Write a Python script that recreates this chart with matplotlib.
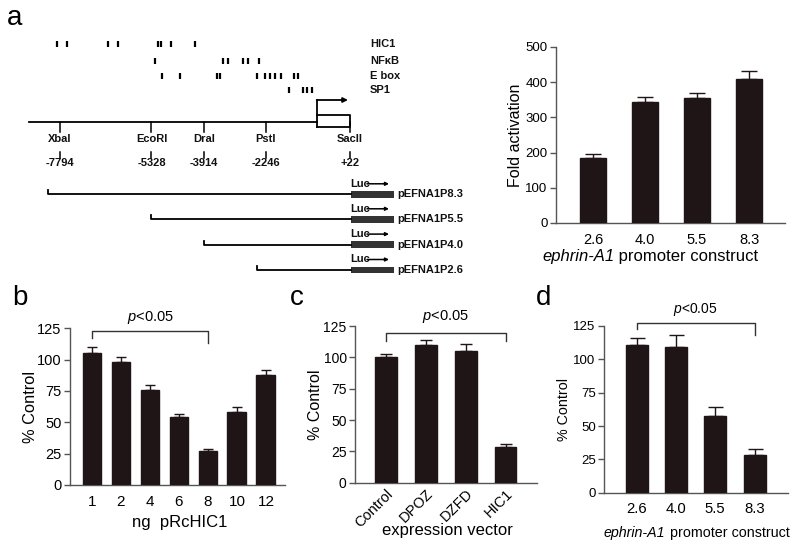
import numpy as np
import matplotlib
matplotlib.use("Agg")
import matplotlib.pyplot as plt
from matplotlib.patches import Rectangle

plt.rcParams['font.family'] = ['Liberation Sans', 'DejaVu Sans']
plt.rcParams['mathtext.fontset'] = 'custom'
plt.rcParams['mathtext.rm'] = 'Liberation Sans'
plt.rcParams['mathtext.it'] = 'Liberation Sans:italic'

# ---- data ----
# promoter map (bp relative to TSS)
site_names = ['HIC1', 'NF\u03baB', 'E box', 'SP1']
hic1_sites = [-7883, -7613, -6508, -6239, -5153, -5072, -4803, -4156]
nfkb_sites = [-5234, -3393, -3274, -2854, -2719, -2423]
ebox_sites = [-5037, -4560, -3571, -3482, -2493, -2269, -2135, -2000, -1838, -1480, -1372]
sp1_sites = [-1614, -1237, -1129, -1011]
enzymes = ['XbaI', 'EcoRI', 'DraI', 'PstI', 'SacII']
enzyme_pos = [-7794, -5328, -3914, -2246, 22]
enzyme_text = ['-7794', '-5328', '-3914', '-2246', '+22']
constructs = ['pEFNA1P8.3', 'pEFNA1P5.5', 'pEFNA1P4.0', 'pEFNA1P2.6']
construct_start = [-8125, -5328, -3914, -2477]

# panel a bars
a_labels = ['2.6', '4.0', '5.5', '8.3']
a_vals = [185, 345, 355, 409]
a_err = [10, 13, 14, 22]
# panel b
b_labels = ['1', '2', '4', '6', '8', '10', '12']
b_vals = [105, 98, 76, 54, 27, 58.5, 88]
b_err = [5, 4, 4, 2.5, 2, 3.5, 4]
# panel c
c_labels = ['Control', 'DPOZ', 'DZFD', 'HIC1']
c_vals = [100, 109.6, 105.3, 28.7]
c_err = [3, 4.5, 5, 2.2]
# panel d
d_labels = ['2.6', '4.0', '5.5', '8.3']
d_vals = [110.5, 109, 57.8, 28.3]
d_err = [5.8, 9, 6.2, 4.5]

W, H = 800, 549
BAR = '#1f1416'
SPINE = '#555555'

fig = plt.figure(figsize=(8, 5.49), dpi=100)


def px_axes(left, right, top, bottom):
    return fig.add_axes([left / W, 1 - bottom / H, (right - left) / W, (bottom - top) / H])


# ---- schematic (pixel space) ----
sx = fig.add_axes([0, 0, 1, 1])
sx.set_xlim(0, W)
sx.set_ylim(H, 0)
sx.axis('off')


def bp2px(bp):
    return 60 + (bp + 7794) * 290 / 7816


row_y = [44, 61, 76, 90]
for name, sites, y in zip(site_names, [hic1_sites, nfkb_sites, ebox_sites, sp1_sites], row_y):
    for s in sites:
        sx.plot([bp2px(s)] * 2, [y - 2.8, y + 2.8], color='k', lw=1.6, solid_capstyle='butt')
    sx.text(370, y, name, fontsize=8, fontweight='bold', va='center', ha='left', color='#111')

main_y = 122.3
tss_x = bp2px(-876)
sx.plot([bp2px(-8629), tss_x], [main_y, main_y], color='k', lw=1.3)
sx.plot([tss_x, tss_x], [100, 126.7], color='k', lw=1.3)
sx.annotate('', xy=(348, 100), xytext=(tss_x, 100),
            arrowprops=dict(arrowstyle='-|>', lw=1.3, color='k', mutation_scale=7, shrinkA=0, shrinkB=0))
sx.plot([tss_x, 350, 350, tss_x], [115, 115, 126.7, 126.7], color='k', lw=1.3)

for name, pos, txt in zip(enzymes, enzyme_pos, enzyme_text):
    x = bp2px(pos)
    sx.plot([x, x], [main_y, 131.5], color='k', lw=1.1)
    sx.text(x, 138.5, name, fontsize=8, fontweight='bold', ha='center', va='center', color='#111')
    sx.plot([x, x], [151.5, 157.5], color='k', lw=1.1)
    sx.text(x, 163.5, txt, fontsize=8, fontweight='bold', ha='center', va='center', color='#111')

con_y = [194.3, 219.3, 244.6, 270]
for name, start, y in zip(constructs, construct_start, con_y):
    x0 = bp2px(start)
    sx.plot([x0, x0, 351], [y - 4, y, y], color='k', lw=1.3)
    sx.add_patch(Rectangle((351, y - 3.2), 42.5, 6.4, color='#333333', lw=0))
    sx.text(350, y - 10.5, 'Luc', fontsize=8, fontweight='bold', ha='left', va='center', color='#111')
    sx.annotate('', xy=(389, y - 10.5), xytext=(367, y - 10.5),
                arrowprops=dict(arrowstyle='-|>', lw=1.1, color='k', mutation_scale=5, shrinkA=0, shrinkB=0))
    sx.text(397, y, name, fontsize=8, fontweight='bold', ha='left', va='center', color='#111')


# ---- bar panels ----
def bar_panel(rect, xlim, ylim, yticks, labels, vals, err, width, capsize,
              ytick_fs, xtick_fs, ylabel_fs):
    left, right, top, bottom = rect
    ax = px_axes(left, right, top, bottom)
    x = np.arange(len(vals))
    ax.bar(x, vals, width=width, color=BAR, edgecolor=BAR, zorder=3)
    ax.errorbar(x, vals, yerr=[np.zeros(len(err)), err], fmt='none', ecolor=BAR,
                elinewidth=1.0, capsize=capsize, capthick=1.0, zorder=2)
    ax.set_xlim(*xlim)
    ax.set_ylim(*ylim)
    ax.set_yticks(yticks)
    ax.set_xticks(x)
    ax.set_xticklabels(labels)
    for s in ['top', 'right']:
        ax.spines[s].set_visible(False)
    for s in ['left', 'bottom']:
        ax.spines[s].set_color(SPINE)
        ax.spines[s].set_linewidth(1.0)
    ax.tick_params(axis='y', length=4, width=1, color=SPINE, labelsize=ytick_fs, pad=2)
    ax.tick_params(axis='x', length=0, labelsize=xtick_fs)
    ax.set_ylabel('Fold activation' if ylim[1] > 200 else '% Control', fontsize=ylabel_fs)
    ax.yaxis.set_label_coords(-40 / (right - left), 0.5)
    ax.yaxis.label.set_va('center')
    return ax


def set_xlabel_px(ax, rect, text, xc, yc, fs):
    left, right, top, bottom = rect
    ax.set_xlabel(text, fontsize=fs)
    ax.xaxis.label.set_va('center')
    ax.xaxis.set_label_coords((xc - left) / (right - left), -(yc - bottom) / (bottom - top))


def promo_label(x_left, yc, fs):
    t1 = fig.text(x_left / W, 1 - yc / H, 'ephrin-A1', fontstyle='italic',
                  fontsize=fs, ha='left', va='center')
    fig.text(0, 0, '', fontsize=1)
    sx.annotate(' promoter construct', xy=(1, 0), xycoords=t1, ha='left', va='bottom', fontsize=fs)


def bracket(ax, x0, x1, ytop, yl, yr, ytext, fs):
    ax.plot([x0, x0, x1, x1], [yl, ytop, ytop, yr], color='#333333', lw=1.0, clip_on=False)
    ax.text((x0 + x1) / 2, ytext, r'$\it{p}$<0.05', ha='center', va='center', fontsize=fs)


ra = (556, 785, 47, 223)
axa = bar_panel(ra, (-0.71, 3.69), (0, 500), [0, 100, 200, 300, 400, 500],
                a_labels, a_vals, a_err, 0.5, 5.5, 9.5, 10.5, 11.5)
axa.tick_params(axis='x', pad=7)
promo_label(542, 257, 12)

rb = (70, 285, 328.3, 485)
axb = bar_panel(rb, (-0.76, 6.66), (0, 125), [0, 25, 50, 75, 100, 125],
                b_labels, b_vals, b_err, 0.65, 3.5, 10.5, 11, 11.8)
axb.tick_params(axis='x', pad=7)
set_xlabel_px(axb, rb, 'ng  pRcHIC1', 180, 522, 12)
bracket(axb, 0, 4, 122.6, 117.3, 113, 134, 10.5)

rc = (355, 537, 326, 482.7)
axc = bar_panel(rc, (-0.78, 3.79), (0, 125), [0, 25, 50, 75, 100, 125],
                c_labels, c_vals, c_err, 0.55, 4.2, 10, 10.5, 11.5)
for t in axc.get_xticklabels():
    t.set_rotation(45)
    t.set_ha('right')
    t.set_rotation_mode('anchor')
axc.tick_params(axis='x', pad=3)
set_xlabel_px(axc, rc, 'expression vector', 447, 530, 12)
bracket(axc, 0, 3, 119.7, 113, 113, 132.5, 10.5)

rd = (604, 788, 326, 492.7)
axd = bar_panel(rd, (-0.83, 3.85), (0, 125), [0, 25, 50, 75, 100, 125],
                d_labels, d_vals, d_err, 0.56, 5.4, 9.5, 10.7, 10.3)
axd.tick_params(axis='x', pad=6.5)
promo_label(604, 533, 10.3)
bracket(axd, 0, 3, 127.5, 122.5, 118, 137, 10)

# panel letters
for letter, x, y in [('a', 7, 25), ('b', 12, 305), ('c', 290, 305), ('d', 536, 305)]:
    fig.text(x / W, 1 - y / H, letter, fontsize=20, ha='left', va='baseline')

fig.savefig('out.png', dpi=100)
